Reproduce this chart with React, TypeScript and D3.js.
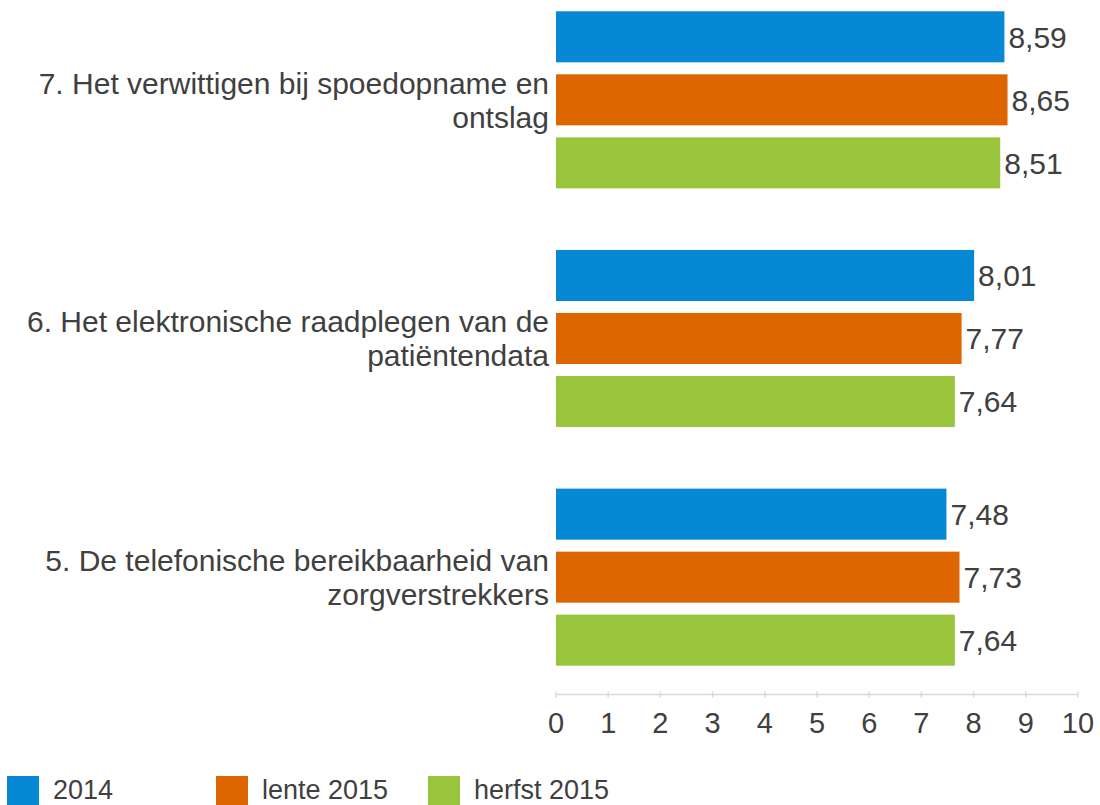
import React, { useEffect, useRef } from "react";
import * as d3 from "d3";

// categories top to bottom, each label split in two lines
const categories = [
  "7. Het verwittigen bij spoedopname en|ontslag",
  "6. Het elektronische raadplegen van de|patiëntendata",
  "5. De telefonische bereikbaarheid van|zorgverstrekkers",
];
const seriesNames = ["2014", "lente 2015", "herfst 2015"];
const values2014 = [8.59, 8.01, 7.48];
const valuesLente2015 = [8.65, 7.77, 7.73];
const valuesHerfst2015 = [8.51, 7.64, 7.64];
const colors = ["#0788d4", "#dd6600", "#99c53c"];
const ticks = [0, 1, 2, 3, 4, 5, 6, 7, 8, 9, 10];

const FONT = "'Liberation Sans', Arial, Helvetica, sans-serif";
const TEXT = "#404040";

export default function App() {
  const ref = useRef<SVGSVGElement>(null);

  useEffect(() => {
    const svg = d3.select(ref.current);
    svg.selectAll("*").remove();

    const series = [values2014, valuesLente2015, valuesHerfst2015];
    const axisY = 694.5;

    const x = d3.scaleLinear().domain([0, 10]).range([556, 1078]);
    const y0 = d3
      .scaleBand()
      .domain(categories)
      .range([-19.5, 696.5])
      .paddingInner(0.258)
      .paddingOuter(0.129);
    const y1 = d3.scaleBand().domain(seriesNames).range([0, y0.bandwidth()]).paddingInner(0.19);

    const g = svg.append("g");

    categories.forEach((cat, ci) => {
      const gy = y0(cat)!;
      seriesNames.forEach((s, si) => {
        const v = series[si][ci];
        const by = gy + y1(s)!;
        g.append("rect")
          .attr("x", x(0))
          .attr("y", by)
          .attr("width", x(v) - x(0))
          .attr("height", y1.bandwidth())
          .attr("fill", colors[si]);
        g.append("text")
          .attr("x", x(v) + 4)
          .attr("y", by + y1.bandwidth() / 2)
          .attr("dy", "0.36em")
          .attr("font-size", 30)
          .attr("fill", TEXT)
          .text(d3.format(".2f")(v).replace(".", ","));
      });

      const lines = cat.split("|");
      const cy = gy + y0.bandwidth() / 2;
      const lh = 34;
      lines.forEach((line, li) => {
        g.append("text")
          .attr("x", 549)
          .attr("y", cy + (li - (lines.length - 1) / 2) * lh)
          .attr("dy", "0.36em")
          .attr("text-anchor", "end")
          .attr("font-size", 30)
          .attr("fill", TEXT)
          .text(line);
      });
    });

    // x axis
    const ax = svg.append("g");
    ax.append("line")
      .attr("x1", x(0))
      .attr("x2", x(10))
      .attr("y1", axisY)
      .attr("y2", axisY)
      .attr("stroke", "#d9d9d9")
      .attr("stroke-width", 1.5);
    ticks.forEach((t) => {
      ax.append("line")
        .attr("x1", x(t))
        .attr("x2", x(t))
        .attr("y1", axisY - 3)
        .attr("y2", axisY + 3)
        .attr("stroke", "#d9d9d9")
        .attr("stroke-width", 1.5);
      ax.append("text")
        .attr("x", x(t))
        .attr("y", 723)
        .attr("dy", "0.36em")
        .attr("text-anchor", "middle")
        .attr("font-size", 29)
        .attr("fill", TEXT)
        .text(t);
    });

    // legend
    const legendX = [7, 216, 428];
    seriesNames.forEach((s, i) => {
      svg.append("rect")
        .attr("x", legendX[i])
        .attr("y", 776)
        .attr("width", 32)
        .attr("height", 32)
        .attr("fill", colors[i]);
      svg.append("text")
        .attr("x", legendX[i] + 46)
        .attr("y", 789)
        .attr("dy", "0.36em")
        .attr("font-size", 27)
        .attr("fill", TEXT)
        .text(s);
    });
  }, []);

  return (
    <svg
      ref={ref}
      width={1100}
      height={805}
      style={{ position: "absolute", left: 0, top: 0, fontFamily: FONT, background: "#fff" }}
    />
  );
}
